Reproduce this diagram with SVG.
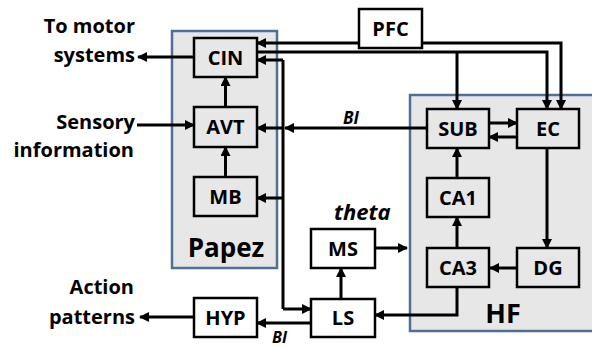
<svg xmlns="http://www.w3.org/2000/svg" width="592" height="347" viewBox="0 0 592 347">
<defs>
<style>
.region{fill:#e7e7e7;stroke:#4f6f96;stroke-width:2.5}
.box{stroke:#000;stroke-width:2.5}
.g{fill:#e7e7e7}
.w{fill:#fff}
.t{font-family:"Open Sans","Noto Sans",sans-serif;font-weight:700;fill:#000}
.bl{font-size:20px;text-anchor:middle}
.lab{font-size:20px;text-anchor:end}
.it{font-style:italic}
.c{fill:none;stroke:#000;stroke-width:3}
.a{marker-end:url(#ah)}
</style>
<marker id="ah" viewBox="0 0 10 10" refX="9" refY="5" markerWidth="10" markerHeight="10" markerUnits="userSpaceOnUse" orient="auto">
<path d="M0,0 L10,5 L0,10 z" fill="#000"/>
</marker>
</defs>
<rect width="592" height="347" fill="#fff"/>

<g id="papez">
<rect class="region" x="172" y="31" width="105" height="237"/>
<text class="t" x="226" y="257" font-size="26" text-anchor="middle">Papez</text>
</g>
<g id="hf">
<rect class="region" x="410" y="95" width="190" height="236"/>
<text class="t" x="503" y="323" font-size="27" text-anchor="middle">HF</text>
</g>

<g id="connectors">
<path class="c a" d="M194,57 H138"/>
<path class="c a" d="M137,125 H194"/>
<path class="c a" d="M225.5,107 V77"/>
<path class="c a" d="M225.5,177 V147"/>
<path class="c a" d="M359,43 H257"/>
<path class="c a" d="M422,43 H561 V109"/>
<path class="c a" d="M257,52 H547 V109"/>
<path class="c a" d="M457,52 V109"/>
<path class="c a" d="M427,128 H285"/>
<path class="c" d="M283,60 V309"/>
<path class="c a" d="M283,60 H257"/>
<path class="c a" d="M283,128 H257"/>
<path class="c a" d="M283,198 H257"/>
<path class="c a" d="M283,309 H311"/>
<path class="c a" d="M489,123 H517"/>
<path class="c a" d="M517,137 H489"/>
<path class="c a" d="M547,148 V248"/>
<path class="c a" d="M516,268 H490"/>
<path class="c a" d="M457,248 V217"/>
<path class="c a" d="M457,178 V148"/>
<path class="c a" d="M457,287 V315 H375"/>
<path class="c a" d="M341,299 V268"/>
<path class="c a" d="M375,248 H407"/>
<path class="c a" d="M311,323 H257"/>
<path class="c a" d="M193,317 H140"/>
</g>

<g id="labels">
<text class="t lab" x="135" y="33">To motor</text>
<text class="t lab" x="135" y="62">systems</text>
<text class="t lab" x="135" y="129">Sensory</text>
<text class="t lab" x="134" y="157">information</text>
<text class="t lab" x="134" y="294">Action</text>
<text class="t lab" x="135" y="324">patterns</text>
<text class="t it" x="343" y="124" font-size="17">BI</text>
<text class="t it" x="272" y="343" font-size="16">BI</text>
<text class="t it" x="334" y="220" font-size="22">theta</text>
</g>

<g id="CIN"><rect class="box g" x="194" y="38" width="63" height="39"/><text class="t bl" x="225.5" y="65">CIN</text></g>
<g id="AVT"><rect class="box g" x="194" y="107" width="63" height="40"/><text class="t bl" x="225.5" y="134">AVT</text></g>
<g id="MB"><rect class="box g" x="194" y="177" width="63" height="39"/><text class="t bl" x="225.5" y="204">MB</text></g>
<g id="PFC"><rect class="box w" x="359" y="9" width="63" height="39"/><text class="t bl" x="390.5" y="36">PFC</text></g>
<g id="SUB"><rect class="box g" x="427" y="109" width="62" height="39"/><text class="t bl" x="458" y="136">SUB</text></g>
<g id="EC"><rect class="box g" x="517" y="109" width="62" height="39"/><text class="t bl" x="548" y="136">EC</text></g>
<g id="CA1"><rect class="box g" x="427" y="178" width="62" height="39"/><text class="t bl" x="458" y="205">CA1</text></g>
<g id="CA3"><rect class="box g" x="427" y="248" width="62" height="39"/><text class="t bl" x="458" y="275">CA3</text></g>
<g id="DG"><rect class="box g" x="517" y="248" width="62" height="39"/><text class="t bl" x="548" y="275">DG</text></g>
<g id="MS"><rect class="box w" x="311" y="229" width="64" height="39"/><text class="t bl" x="343" y="256">MS</text></g>
<g id="LS"><rect class="box w" x="311" y="299" width="64" height="38"/><text class="t bl" x="343" y="325">LS</text></g>
<g id="HYP"><rect class="box w" x="194" y="298" width="63" height="39"/><text class="t bl" x="225.5" y="325">HYP</text></g>
</svg>
